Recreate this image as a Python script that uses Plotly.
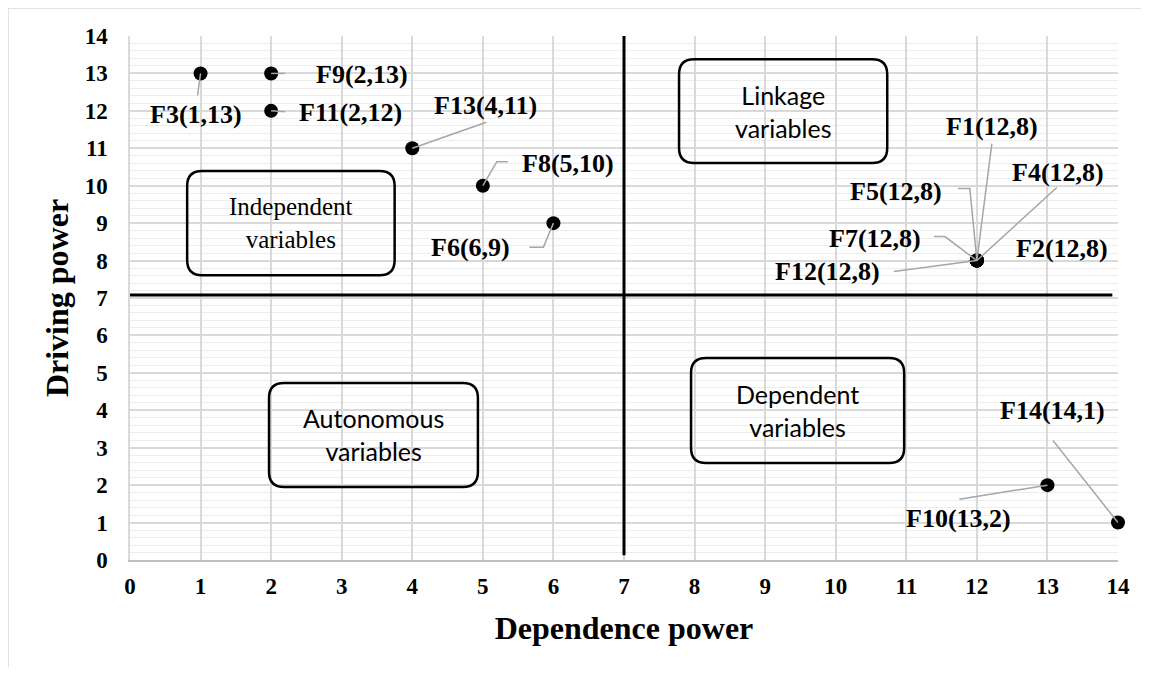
import plotly.graph_objects as go

# ---- data ----
factors = ["F1", "F2", "F3", "F4", "F5", "F6", "F7", "F8", "F9", "F10", "F11", "F12", "F13", "F14"]
dependence = [12, 12, 1, 12, 12, 6, 12, 5, 2, 13, 2, 12, 4, 14]
driving = [8, 8, 13, 8, 8, 9, 8, 10, 13, 2, 12, 8, 11, 1]
x_ticks = list(range(0, 15))
y_ticks = list(range(0, 15))
quadrant_names = ["Independent<br>variables", "Linkage<br>variables",
                  "Dependent<br>variables", "Autonomous<br>variables"]
split_x = 7
split_y = 7.08

# ---- layout helpers (pixel offsets of labels: dx right, dy down) ----
label_offsets = {
    "F1": (15, -134), "F2": (85, -12), "F3": (-5, 41), "F4": (81, -88),
    "F5": (-81, -69), "F6": (-83, 24), "F7": (-102, -22), "F8": (85, -22),
    "F9": (91, 1), "F10": (-89, 33), "F11": (79, 2), "F12": (-149, 11),
    "F13": (73, -43), "F14": (-66, -112),
}
leaders = {
    "F1": [(0, 0), (15, -117)],
    "F3": [(0, 0), (-3, 22)],
    "F4": [(0, 0), (80, -73)],
    "F5": [(0, 0), (-7, -72), (-19, -72)],
    "F6": [(0, 0), (-10, 24), (-24, 24)],
    "F7": [(0, 0), (-32, -24), (-43, -24)],
    "F8": [(0, 0), (14, -24), (25, -24)],
    "F9": [(0, 0), (14, 0)],
    "F10": [(0, 0), (-88, 14)],
    "F11": [(0, 0), (14, 1)],
    "F12": [(0, 0), (-83, 11)],
    "F13": [(0, 0), (74, -26)],
    "F14": [(0, 0), (-65, -82)],
}
# boxes in axis units: x0, x1, y0, y1
boxes = [(0.81, 3.75, 7.61, 10.39), (7.78, 10.73, 10.61, 13.38),
         (7.95, 10.97, 2.59, 5.40), (1.97, 4.93, 1.95, 4.73)]
box_fonts = ["Liberation Serif", "Lato", "Lato", "Lato"]

# page has an 8px body margin, so the figure is made 16px smaller
W, H = 1133, 659
ml, mr, mt, mb = 122, 23, 28, 107
px_x = (W - ml - mr) / 14.0
px_y = (H - mt - mb) / 14.0

fig = go.Figure()
fig.add_trace(go.Scatter(
    x=dependence, y=driving, mode="markers",
    marker=dict(color="black", size=14),
    cliponaxis=False, hoverinfo="skip", showlegend=False))

shapes = []
annotations = []
serif_bold = dict(family="Liberation Serif", size=26, color="black")
for name, xv, yv in zip(factors, dependence, driving):
    dx, dy = label_offsets[name]
    annotations.append(dict(
        x=xv, y=yv, xref="x", yref="y", text=f"<b>{name}({xv},{yv})</b>",
        showarrow=False, xshift=dx, yshift=-dy, font=serif_bold,
        xanchor="center", yanchor="middle"))
    if name in leaders:
        pts = leaders[name]
        path = "M" + " L".join(f"{p[0]},{-p[1]}" for p in pts)
        shapes.append(dict(
            type="path", xref="x", yref="y", xsizemode="pixel", ysizemode="pixel",
            xanchor=xv, yanchor=yv, path=path,
            line=dict(color="#a6a6a6", width=1.5), layer="above"))

rx, ry = 15 / px_x, 15 / px_y
for (x0, x1, y0, y1), txt, fam in zip(boxes, quadrant_names, box_fonts):
    p = (f"M{x0+rx},{y0} L{x1-rx},{y0} Q{x1},{y0} {x1},{y0+ry} "
         f"L{x1},{y1-ry} Q{x1},{y1} {x1-rx},{y1} L{x0+rx},{y1} "
         f"Q{x0},{y1} {x0},{y1-ry} L{x0},{y0+ry} Q{x0},{y0} {x0+rx},{y0} Z")
    shapes.append(dict(type="path", xref="x", yref="y", path=p,
                       line=dict(color="black", width=2.5), layer="above"))
    annotations.append(dict(
        x=(x0 + x1) / 2, y=(y0 + y1) / 2, xref="x", yref="y", text=txt,
        showarrow=False, font=dict(family=fam, size=25, color="black"),
        xanchor="center", yanchor="middle"))

# quadrant split lines
shapes.append(dict(type="line", xref="x", yref="y", x0=split_x, x1=split_x,
                   y0=0.13, y1=14.03, line=dict(color="black", width=3), layer="above"))
shapes.append(dict(type="line", xref="x", yref="y", x0=-0.03, x1=13.92,
                   y0=split_y, y1=split_y, line=dict(color="black", width=3), layer="above"))

# outer chart border (top and left)
def pxx(p):
    return (p - ml) / (W - ml - mr)

def pxy(p):
    return 1 - (p - mt) / (H - mt - mb)

shapes.append(dict(type="line", xref="paper", yref="paper", x0=pxx(0), x1=pxx(W),
                   y0=pxy(0), y1=pxy(0), line=dict(color="#d9d9d9", width=1.5)))
shapes.append(dict(type="line", xref="paper", yref="paper", x0=pxx(0), x1=pxx(0),
                   y0=pxy(0), y1=pxy(H), line=dict(color="#d9d9d9", width=1.5)))

tick_font = dict(family="Liberation Serif", size=23, color="black", weight="bold")
fig.update_layout(
    width=W, height=H,
    margin=dict(l=ml, r=mr, t=mt, b=mb, pad=0),
    paper_bgcolor="white", plot_bgcolor="white",
    shapes=shapes, annotations=annotations,
    xaxis=dict(range=[0, 14], tickvals=x_ticks, ticktext=[str(v) for v in x_ticks],
               showgrid=True, gridcolor="#d9d9d9", gridwidth=1.5,
               zeroline=False, showline=True, linecolor="#bfbfbf", linewidth=1.5,
               tickfont=tick_font, ticks="", ticklabelstandoff=5,
               title=dict(text="<b>Dependence power</b>",
                          font=dict(family="Liberation Serif", size=32, color="black"),
                          standoff=18)),
    yaxis=dict(range=[0, 14], tickvals=y_ticks, ticktext=[str(v) for v in y_ticks],
               showgrid=True, gridcolor="#d9d9d9", gridwidth=1.5,
               minor=dict(dtick=0.2, showgrid=True, gridcolor="#ededed", gridwidth=1.2),
               zeroline=False, showline=True, linecolor="#d9d9d9", linewidth=1.5,
               tickfont=tick_font, ticks="", ticklabelstandoff=16,
               title=dict(text="<b>Driving power</b>",
                          font=dict(family="Liberation Serif", size=32, color="black"),
                          standoff=6)),
)

fig.write_html("out.html")
